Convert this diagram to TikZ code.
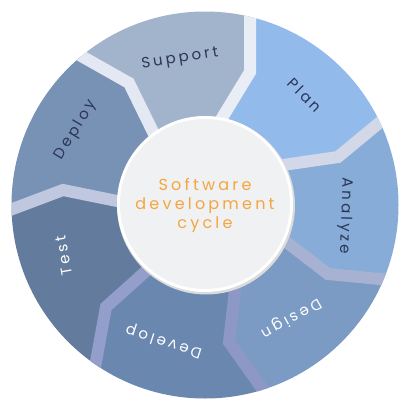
\documentclass[tikz,border=0pt]{standalone}
\usepackage{fontspec}
\usepackage{xcolor}
\setmainfont{Poppins}
\newfontfamily\zyklusfont[LetterSpace=20]{Poppins}
\usetikzlibrary{calc}

% Farben der Segmente
\definecolor{farbesupport}{HTML}{A2B4CC}
\definecolor{farbeplan}{HTML}{92BBEC}
\definecolor{farbeanalyze}{HTML}{87ACD8}
\definecolor{farbedesign}{HTML}{7B9BC5}
\definecolor{farbedevelop}{HTML}{6A87AF}
\definecolor{farbetest}{HTML}{637C9D}
\definecolor{farbedeploy}{HTML}{7892B5}
% Farben der Trennlinien
\definecolor{trennsp}{HTML}{E9EDF5}
\definecolor{trennpa}{HTML}{D2D8E8}
\definecolor{trennad}{HTML}{A7B1D2}
\definecolor{trenndd}{HTML}{8E98C6}
\definecolor{trenndt}{HTML}{939ECA}
\definecolor{trenntd}{HTML}{C0C8E0}
\definecolor{trennds}{HTML}{E4E8F2}
% Text und Mitte
\definecolor{labeldunkel}{HTML}{2D3557}
\definecolor{titelorange}{HTML}{F6A53F}
\definecolor{innengrau}{HTML}{F0F1F3}

\begin{document}
\begin{tikzpicture}[
    x=1pt, y=-1pt,
    % Stil für die Beschriftungen der Segmente
    segtext/.style={
      font=\zyklusfont\fontsize{15}{18}\selectfont,
      text=labeldunkel,
      inner sep=0pt
    },
    % helle Beschriftung auf dunklen Segmenten
    segtexthell/.style={
      segtext,
      text=white
    },
    % Stil für den Text im Kreis
    mitteltext/.style={
      font=\zyklusfont\fontsize{16}{19}\selectfont,
      text=titelorange,
      align=center
    },
    % Stil für die Trennlinien
    trenner/.style={
      line width=12pt,
      line join=miter
    }
  ]

  \useasboundingbox (0,0) rectangle (410,405);

  % --- KOORDINATEN ---
  \coordinate (mitte) at (205,205);
  % Trennlinien: innen, Knick, aussen
  \coordinate (sp1) at (222,118); \coordinate (sp2) at (250,72);  \coordinate (sp3) at (250,-10);
  \coordinate (pa1) at (283,165); \coordinate (pa2) at (338,157); \coordinate (pa3) at (420,89);
  \coordinate (ad1) at (285,241); \coordinate (ad2) at (328,274); \coordinate (ad3) at (421,283);
  \coordinate (dd1) at (235,290); \coordinate (dd2) at (229,342); \coordinate (dd3) at (278,411);
  \coordinate (dt1) at (145,272); \coordinate (dt2) at (106,307); \coordinate (dt3) at (87,411);
  \coordinate (td1) at (117,201); \coordinate (td2) at (63,190);  \coordinate (td3) at (-14,219);
  \coordinate (ds1) at (153,132); \coordinate (ds2) at (129,83);  \coordinate (ds3) at (37,31);

  % --- SEGMENTE ---
  \begin{scope}
    \clip (mitte) circle (193.5);
    \fill[farbesupport] (mitte) -- (ds1) -- (ds2) -- (ds3) -- (130,-60) -- (sp3) -- (sp2) -- (sp1) -- cycle;
    \fill[farbeplan] (mitte) -- (sp1) -- (sp2) -- (sp3) -- (420,-20) -- (pa3) -- (pa2) -- (pa1) -- cycle;
    \fill[farbeanalyze] (mitte) -- (pa1) -- (pa2) -- (pa3) -- (450,190) -- (ad3) -- (ad2) -- (ad1) -- cycle;
    \fill[farbedesign] (mitte) -- (ad1) -- (ad2) -- (ad3) -- (420,430) -- (dd3) -- (dd2) -- (dd1) -- cycle;
    \fill[farbedevelop] (mitte) -- (dd1) -- (dd2) -- (dd3) -- (180,450) -- (dt3) -- (dt2) -- (dt1) -- cycle;
    \fill[farbetest] (mitte) -- (dt1) -- (dt2) -- (dt3) -- (-30,420) -- (td3) -- (td2) -- (td1) -- cycle;
    \fill[farbedeploy] (mitte) -- (td1) -- (td2) -- (td3) -- (-40,80) -- (ds3) -- (ds2) -- (ds1) -- cycle;

    % Trennlinien zwischen den Segmenten
    \draw[trenner, trennsp] ($(sp2)!1.3!(sp1)$) -- (sp2) -- (sp3);
    \draw[trenner, trennpa] ($(pa2)!1.3!(pa1)$) -- (pa2) -- (pa3);
    \draw[trenner, trennad] ($(ad2)!1.3!(ad1)$) -- (ad2) -- (ad3);
    \draw[trenner, trenndd] ($(dd2)!1.3!(dd1)$) -- (dd2) -- (dd3);
    \draw[trenner, trenndt] ($(dt2)!1.3!(dt1)$) -- (dt2) -- (dt3);
    \draw[trenner, trenntd] ($(td2)!1.3!(td1)$) -- (td2) -- (td3);
    \draw[trenner, trennds] ($(ds2)!1.3!(ds1)$) -- (ds2) -- (ds3);
  \end{scope}

  % --- BESCHRIFTUNGEN ---
  \node[segtext, rotate=9] (support) at (180,59) {Support};
  \node[segtext, rotate=-45] (plan) at (305,95) {Plan};
  \node[segtext, rotate=-92] (analyze) at (345,216) {Analyze};
  \node[segtexthell, rotate=-151] (design) at (291,318) {Design};
  \node[segtexthell, rotate=162] (develop) at (164,341) {Develop};
  \node[segtexthell, rotate=100] (test) at (64,256) {Test};
  \node[segtext, rotate=59] (deploy) at (76,130) {Deploy};

  % --- KREIS IN DER MITTE ---
  \fill[black!14] (206,205.5) circle (89);
  \fill[white] (205,204) circle (88);
  \fill[innengrau] (205,204) circle (85);
  \node[mitteltext] (titel) at (205,205) {Software\\development\\cycle};

\end{tikzpicture}
\end{document}
